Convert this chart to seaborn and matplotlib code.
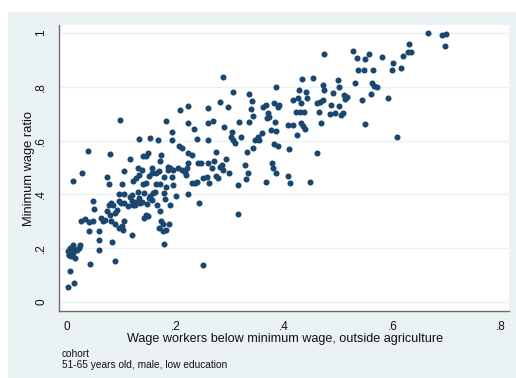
import matplotlib
matplotlib.use("Agg")
import matplotlib.pyplot as plt
from matplotlib.patches import Rectangle
import pandas as pd
import seaborn as sns

# Share of wage workers below the minimum wage (outside agriculture)
wage_below_min = [
    0.098, 0.182, 0.039, 0.079, 0.133, 0.153, 0.168, 0.116, 0.146, 0.149,
    0.140, 0.173, 0.171, 0.131, 0.138, 0.157, 0.170, 0.186, 0.186, 0.105,
    0.122, 0.127, 0.133, 0.151, 0.164, 0.179, 0.074, 0.077, 0.101, 0.011,
    0.028, 0.146, 0.140, 0.164, 0.171, 0.182, 0.157,
    0.048, 0.050, 0.026, 0.033, 0.041, 0.048, 0.041, 0.059, 0.059, 0.059,
    0.066, 0.063, 0.096, 0.105, 0.120, 0.131, 0.133, 0.120, 0.125, 0.112,
    0.105, 0.100, 0.096, 0.092, 0.088, 0.079, 0.085, 0.081, 0.077, 0.074,
    0.070, 0.081, 0.088, 0.096, 0.101, 0.105, 0.103, 0.120, 0.083, 0.088,
    0.142, 0.146, 0.149, 0.147, 0.151, 0.159, 0.166, 0.171, 0.173, 0.170,
    0.177, 0.179, 0.177, 0.182, 0.188, 0.142, 0.153, 0.157, 0.162, 0.181,
    0.179, 0.135, 0.138, 0.127, 0.122, 0.116,
    0.002, 0.013, 0.006, 0.042, 0.003, 0.002, 0.004, 0.007, 0.011, 0.015,
    0.011, 0.018, 0.022, 0.024, 0.006, 0.013,
    0.288, 0.306, 0.335, 0.341, 0.282, 0.297, 0.260, 0.223, 0.208, 0.339,
    0.343, 0.335, 0.317, 0.269, 0.260, 0.223, 0.234, 0.289, 0.194, 0.194,
    0.240, 0.260, 0.304, 0.302, 0.306, 0.310, 0.321, 0.347, 0.343, 0.332,
    0.206, 0.212, 0.223, 0.230, 0.275, 0.241, 0.247, 0.223, 0.260, 0.271,
    0.293, 0.286, 0.282, 0.288, 0.267, 0.275, 0.278, 0.299, 0.328, 0.334,
    0.330, 0.315, 0.190, 0.195, 0.205, 0.212, 0.218, 0.221, 0.219, 0.194,
    0.195, 0.230, 0.236, 0.240, 0.251, 0.258, 0.262, 0.201, 0.190, 0.223,
    0.243, 0.315, 0.251,
    0.665, 0.691, 0.699, 0.697, 0.630, 0.619, 0.629, 0.634, 0.601, 0.599,
    0.616, 0.581, 0.527, 0.535, 0.549, 0.557, 0.536, 0.547, 0.564, 0.474,
    0.433, 0.453, 0.500, 0.531, 0.562, 0.566, 0.571, 0.472, 0.474, 0.490,
    0.501, 0.385, 0.428, 0.441, 0.442, 0.560, 0.511, 0.516, 0.512, 0.592,
    0.544, 0.417, 0.426, 0.431, 0.461, 0.466, 0.472, 0.487, 0.501, 0.465,
    0.485, 0.494, 0.505, 0.509, 0.422, 0.429, 0.437, 0.361, 0.367, 0.371,
    0.372, 0.369, 0.382, 0.389, 0.391, 0.383, 0.376, 0.385, 0.407, 0.417,
    0.431, 0.435, 0.439, 0.424, 0.468, 0.549, 0.608, 0.354, 0.352, 0.359,
    0.382, 0.389, 0.409, 0.461, 0.378, 0.380, 0.385, 0.407, 0.411, 0.367,
    0.448,
]

# Minimum wage relative to the median wage
min_wage_ratio = [
    0.677, 0.673, 0.561, 0.550, 0.606, 0.610, 0.602, 0.532, 0.543, 0.554,
    0.543, 0.546, 0.524, 0.498, 0.491, 0.498, 0.487, 0.502, 0.491, 0.487,
    0.450, 0.461, 0.472, 0.468, 0.480, 0.465, 0.465, 0.439, 0.439, 0.450,
    0.480, 0.442, 0.439, 0.439, 0.439, 0.428, 0.480,
    0.375, 0.346, 0.301, 0.309, 0.297, 0.301, 0.264, 0.264, 0.230, 0.193,
    0.301, 0.312, 0.401, 0.401, 0.398, 0.409, 0.387, 0.375, 0.361, 0.357,
    0.368, 0.368, 0.375, 0.342, 0.331, 0.323, 0.361, 0.368, 0.361, 0.338,
    0.305, 0.301, 0.290, 0.275, 0.283, 0.301, 0.268, 0.249, 0.223, 0.152,
    0.312, 0.323, 0.320, 0.364, 0.387, 0.405, 0.361, 0.338, 0.301, 0.275,
    0.290, 0.216, 0.264, 0.268, 0.290, 0.405, 0.394, 0.379, 0.409, 0.383,
    0.405, 0.368, 0.372, 0.372, 0.361, 0.390,
    0.056, 0.071, 0.115, 0.141, 0.175, 0.190, 0.175, 0.171, 0.182, 0.164,
    0.212, 0.193, 0.201, 0.212, 0.201, 0.197,
    0.836, 0.781, 0.773, 0.747, 0.743, 0.725, 0.721, 0.729, 0.714, 0.717,
    0.691, 0.669, 0.669, 0.673, 0.665, 0.665, 0.643, 0.651, 0.632, 0.602,
    0.606, 0.602, 0.632, 0.613, 0.602, 0.591, 0.613, 0.602, 0.572, 0.558,
    0.580, 0.572, 0.554, 0.546, 0.558, 0.517, 0.517, 0.517, 0.517, 0.524,
    0.532, 0.509, 0.502, 0.491, 0.498, 0.468, 0.461, 0.480, 0.509, 0.480,
    0.457, 0.435, 0.498, 0.491, 0.498, 0.491, 0.483, 0.498, 0.472, 0.465,
    0.435, 0.442, 0.442, 0.446, 0.461, 0.465, 0.442, 0.394, 0.361, 0.401,
    0.368, 0.327, 0.138,
    1.000, 0.993, 0.996, 0.952, 0.959, 0.914, 0.929, 0.929, 0.888, 0.862,
    0.870, 0.911, 0.933, 0.907, 0.903, 0.922, 0.862, 0.862, 0.862, 0.922,
    0.829, 0.833, 0.825, 0.814, 0.814, 0.803, 0.799, 0.807, 0.788, 0.777,
    0.799, 0.799, 0.788, 0.781, 0.758, 0.773, 0.770, 0.762, 0.755, 0.758,
    0.751, 0.751, 0.758, 0.740, 0.740, 0.743, 0.751, 0.732, 0.729, 0.706,
    0.699, 0.703, 0.695, 0.703, 0.706, 0.706, 0.706, 0.725, 0.732, 0.703,
    0.688, 0.684, 0.740, 0.725, 0.732, 0.669, 0.639, 0.636, 0.658, 0.658,
    0.665, 0.654, 0.643, 0.621, 0.665, 0.662, 0.613, 0.602, 0.613, 0.628,
    0.587, 0.580, 0.569, 0.554, 0.517, 0.498, 0.480, 0.468, 0.442, 0.446,
    0.446,
]

x_ticks = [0, 0.2, 0.4, 0.6, 0.8]
x_tick_labels = ["0", ".2", ".4", ".6", ".8"]
y_ticks = [0, 0.2, 0.4, 0.6, 0.8, 1.0]
y_tick_labels = ["0", ".2", ".4", ".6", ".8", "1"]

x_title = "Wage workers below minimum wage, outside agriculture"
y_title = "Minimum wage ratio"
note_lines = ["cohort", "51-65 years old, male, low education"]

df = pd.DataFrame({"below": wage_below_min, "ratio": min_wage_ratio})

sns.set_style("white")
plt.rcParams["font.family"] = ["Liberation Sans", "DejaVu Sans"]

W, H = 516, 378
MARKER = "#1A476F"
PANEL = "#EAF2F3"
AXIS = "#6E6E6E"
TEXT = "#111111"

fig = plt.figure(figsize=(W / 100, H / 100), dpi=100, facecolor="white")
# light graph region behind the plot area
fig.patches.append(Rectangle((8 / W, 0), 1 - 8 / W, 1 - 12 / H,
                             transform=fig.transFigure, facecolor=PANEL,
                             edgecolor="none", zorder=-10))

ax = fig.add_axes([59 / W, 1 - 311 / H, 450 / W, 286 / H])
ax.set_facecolor("white")

sns.scatterplot(data=df, x="below", y="ratio", ax=ax, color=MARKER,
                s=19, linewidth=0, alpha=1, zorder=3)

ax.set_xlim(-0.0147, 0.8147)
ax.set_ylim(-0.0335, 1.0297)

for side in ("top", "right"):
    ax.spines[side].set_visible(False)
for side in ("left", "bottom"):
    ax.spines[side].set_color(AXIS)
    ax.spines[side].set_linewidth(1.0)

ax.set_axisbelow(True)
ax.yaxis.grid(True, color=PANEL, linewidth=1.0)
ax.xaxis.grid(False)

ax.set_xticks(x_ticks)
ax.set_xticklabels(x_tick_labels)
ax.set_yticks(y_ticks)
ax.set_yticklabels(y_tick_labels, rotation=90, va="center")
ax.tick_params(axis="both", length=4, width=0.8, color=AXIS,
               labelsize=8.5, labelcolor=TEXT)
ax.tick_params(axis="x", pad=3.5)
ax.tick_params(axis="y", pad=4.5)

ax.set_xlabel(x_title, fontsize=9.1, color=TEXT)
ax.set_ylabel(y_title, fontsize=9.3, color=TEXT)
ax.xaxis.set_label_coords(0.502, -0.098)
ax.xaxis.label.set_va("center")
ax.yaxis.set_label_coords(-0.067, 0.5)
ax.yaxis.label.set_va("center")

fig.text(62 / W, 1 - 354 / H, note_lines[0], fontsize=7.25,
         color=TEXT, va="center", ha="left")
fig.text(62 / W, 1 - 365 / H, note_lines[1], fontsize=7.25,
         color=TEXT, va="center", ha="left")

fig.savefig("out.png", dpi=100, facecolor=fig.get_facecolor())
